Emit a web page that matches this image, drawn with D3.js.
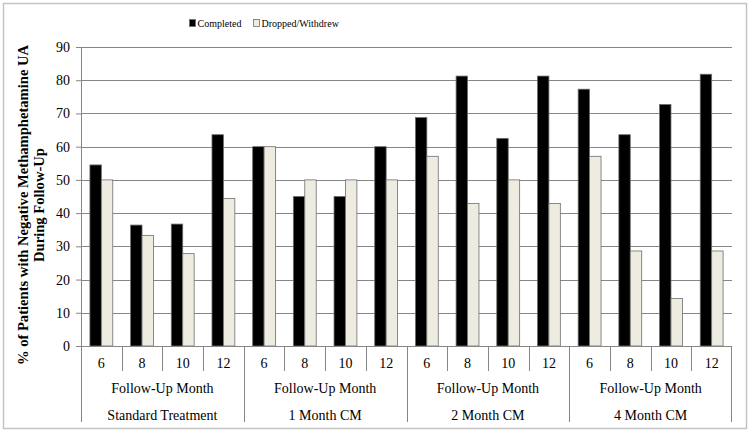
<!DOCTYPE html>
<html>
<head>
<meta charset="utf-8">
<script src="https://cdn.jsdelivr.net/npm/d3@7"></script>
<style>
  body { margin: 0; background: #fff; }
  svg text { font-family: "Liberation Serif", "Times New Roman", "DejaVu Serif", serif; fill: #000; }
</style>
</head>
<body>
<svg id="chart" width="750" height="435"></svg>
<script>
const groups = ['Standard Treatment', '1 Month CM', '2 Month CM', '4 Month CM'];
const months = ['6', '8', '10', '12'];
const seriesNames = ['Completed', 'Dropped/Withdrew'];
const completed = [54.5, 36.4, 36.7, 63.6, 60, 45, 45, 60, 68.75, 81.25, 62.5, 81.25, 77.3, 63.6, 72.7, 81.8];
const dropped = [50, 33.3, 27.8, 44.4, 60, 50, 50, 50, 57.1, 42.9, 50, 42.9, 57.1, 28.6, 14.3, 28.6];
const yTicks = [0, 10, 20, 30, 40, 50, 60, 70, 80, 90];

const width = 750, height = 435;
const margin = { top: 47, right: 18, bottom: 89, left: 81 };
const innerWidth = width - margin.left - margin.right;
const innerHeight = height - margin.top - margin.bottom;

const svg = d3.select('#chart');

// outer frame
svg.append('rect')
  .attr('x', 3.5).attr('y', 3.5)
  .attr('width', 743).attr('height', 425)
  .attr('fill', 'none').attr('stroke', '#c4c4c4').attr('stroke-width', 1.5);

const g = svg.append('g').attr('transform', `translate(${margin.left},${margin.top})`);

// one category per group/month pair
const cats = [];
groups.forEach(gr => months.forEach(m => cats.push(gr + '|' + m)));

const x = d3.scaleBand().domain(cats).range([0, innerWidth]).paddingInner(0).paddingOuter(0);
const xInner = d3.scaleBand().domain(seriesNames).range([0, x.bandwidth()]).paddingInner(0).paddingOuter(0.78);
const y = d3.scaleLinear().domain([0, 90]).range([innerHeight, 0]);

// gridlines
g.append('g')
  .selectAll('line')
  .data(yTicks.filter(d => d > 0))
  .enter().append('line')
  .attr('x1', 0).attr('x2', innerWidth)
  .attr('y1', d => Math.round(y(d)) + 0.5).attr('y2', d => Math.round(y(d)) + 0.5)
  .attr('stroke', '#868686').attr('stroke-width', 1);

// y axis
const yAxis = d3.axisLeft(y).tickValues(yTicks).tickSize(5).tickPadding(6);
const yg = g.append('g').call(yAxis);
yg.attr('font-family', null);
yg.select('.domain').attr('stroke', '#868686');
yg.selectAll('.tick line').attr('stroke', '#868686');
yg.selectAll('.tick text').attr('font-size', 14);

// bars
const colors = { 'Completed': '#000000', 'Dropped/Withdrew': '#eeece1' };
const rows = cats.map((c, i) => ({ cat: c, values: [
  { key: 'Completed', value: completed[i] },
  { key: 'Dropped/Withdrew', value: dropped[i] }
] }));

g.append('g').selectAll('g')
  .data(rows)
  .enter().append('g')
  .attr('transform', d => `translate(${x(d.cat)},0)`)
  .selectAll('rect')
  .data(d => d.values)
  .enter().append('rect')
  .attr('x', d => xInner(d.key))
  .attr('y', d => y(d.value))
  .attr('width', xInner.bandwidth())
  .attr('height', d => innerHeight - y(d.value))
  .attr('fill', d => colors[d.key])
  .attr('stroke', '#6e6e6e')
  .attr('stroke-width', 0.8);

// x axis baseline
g.append('line')
  .attr('x1', 0).attr('x2', innerWidth)
  .attr('y1', innerHeight + 0.5).attr('y2', innerHeight + 0.5)
  .attr('stroke', '#868686');

// category separators: short for months, long at group edges
const seps = g.append('g');
cats.forEach((c, i) => {
  const isGroupEdge = i % months.length === 0;
  seps.append('line')
    .attr('x1', Math.round(x(c)) + 0.5).attr('x2', Math.round(x(c)) + 0.5)
    .attr('y1', innerHeight)
    .attr('y2', innerHeight + (isGroupEdge ? 76 : 25))
    .attr('stroke', '#868686');
});
seps.append('line')
  .attr('x1', innerWidth - 0.5).attr('x2', innerWidth - 0.5)
  .attr('y1', innerHeight).attr('y2', innerHeight + 76)
  .attr('stroke', '#868686');

// month labels
g.append('g').selectAll('text')
  .data(cats)
  .enter().append('text')
  .attr('x', d => x(d) + x.bandwidth() / 2)
  .attr('y', innerHeight + 22)
  .attr('text-anchor', 'middle')
  .attr('font-size', 14)
  .text(d => d.split('|')[1]);

// group labels
const groupWidth = x.bandwidth() * months.length;
const gl = g.append('g').selectAll('g')
  .data(groups)
  .enter().append('g')
  .attr('transform', (d, i) => `translate(${i * groupWidth + groupWidth / 2},0)`);
gl.append('text')
  .attr('y', innerHeight + 47)
  .attr('text-anchor', 'middle')
  .attr('font-size', 14)
  .text('Follow-Up Month');
gl.append('text')
  .attr('y', innerHeight + 74)
  .attr('text-anchor', 'middle')
  .attr('font-size', 14)
  .text(d => d);

// y axis title
const yt = svg.append('text')
  .attr('transform', 'translate(28,205) rotate(-90)')
  .attr('text-anchor', 'middle')
  .attr('font-size', 14.6)
  .attr('font-weight', 'bold');
yt.append('tspan').attr('x', 0).attr('dy', 0).text('% of Patients with Negative Methamphetamine UA');
yt.append('tspan').attr('x', 0).attr('dy', 16).text('During Follow-Up');

// legend
const legend = svg.append('g').attr('transform', 'translate(189,23)');
const legendX = [0, 64];
seriesNames.forEach((s, i) => {
  const lg = legend.append('g').attr('transform', `translate(${legendX[i]},0)`);
  lg.append('rect')
    .attr('x', 0.5).attr('y', -3.5).attr('width', 6).attr('height', 7)
    .attr('fill', colors[s]).attr('stroke', '#6e6e6e').attr('stroke-width', 0.8);
  lg.append('text')
    .attr('x', 8.5).attr('y', 3.5)
    .attr('font-size', 10)
    .text(s);
});
</script>
</body>
</html>
